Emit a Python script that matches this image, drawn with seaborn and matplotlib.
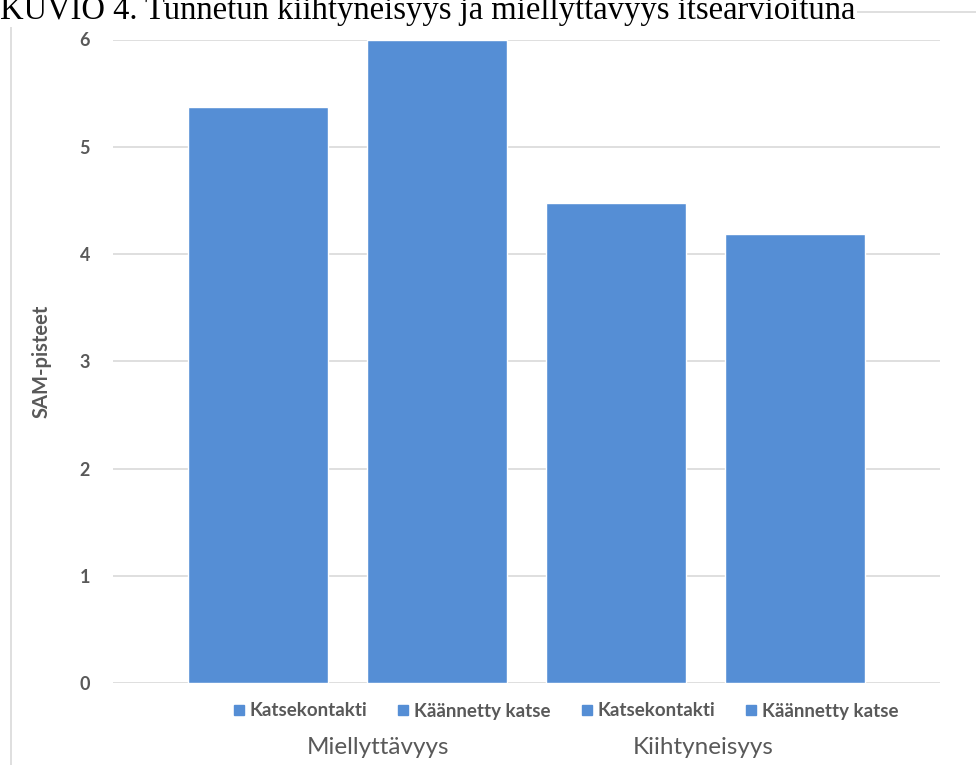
import matplotlib
matplotlib.use("Agg")
import matplotlib.pyplot as plt
from matplotlib.patches import Rectangle
from matplotlib.lines import Line2D
import seaborn as sns
import pandas as pd

# Chart data
groups = ["Miellyttävyys", "Miellyttävyys", "Kiihtyneisyys", "Kiihtyneisyys"]
conditions = ["Katsekontakti", "Käännetty katse", "Katsekontakti", "Käännetty katse"]
values = [5.37, 6.0, 4.48, 4.19]
group_labels = ["Miellyttävyys", "Kiihtyneisyys"]
y_ticks = [0, 1, 2, 3, 4, 5, 6]
title = "KUVIO 4. Tunnetun kiihtyneisyys ja miellyttävyys itsearvioituna"
y_label = "SAM-pisteet"

bar_color = "#558ED5"
text_color = "#595959"
grid_color = "#D9D9D9"

df = pd.DataFrame({
    "bar": [f"{g} – {c}" for g, c in zip(groups, conditions)],
    "group": groups,
    "condition": conditions,
    "value": values,
})

sns.set_theme(style="white")
plt.rcParams["font.family"] = ["Lato", "DejaVu Sans"]

W, H = 976, 765
fig = plt.figure(figsize=(W / 100, H / 100), dpi=100)
ax = fig.add_axes([113 / W, 1 - 683 / H, (940 - 113) / W, (683 - 39.5) / H])

sns.barplot(data=df, x="bar", y="value", color=bar_color, saturation=1,
            width=0.78, ax=ax, errorbar=None, zorder=3)

ax.set_xlim(-0.81, 3.81)
ax.set_ylim(0, 6)
ax.set_yticks(y_ticks)
ax.set_yticklabels([str(t) for t in y_ticks], color=text_color,
                   fontsize=13, fontweight="bold")
ax.tick_params(axis="y", length=0, pad=16.5)
ax.set_xticks([])
ax.set_xlabel("")
ax.set_ylabel(y_label, color=text_color, fontsize=14.5, fontweight="bold")
ax.yaxis.set_label_coords((52 - 113) / (940 - 113), 0.5)
ax.grid(axis="y", color=grid_color, linewidth=1.2, zorder=0)
for s in ax.spines.values():
    s.set_visible(False)

# Group labels under the legend row
label_x = [378, 703]
for x, lab in zip(label_x, group_labels):
    fig.text(x / W, 1 - 748 / H, lab, ha="center", va="center",
             fontsize=17.5, color=text_color)

# Series legend below the plot
handles = [Line2D([0], [0], marker="s", linestyle="none", markersize=7,
                  markerfacecolor=bar_color, markeredgecolor=bar_color)
           for _ in conditions]
leg = fig.legend(handles, conditions, ncol=4, loc="center",
                 bbox_to_anchor=(565 / W, 1 - 711 / H), frameon=False,
                 handletextpad=0.2, columnspacing=1.5, handlelength=0.8,
                 prop={"size": 13.5, "weight": "bold"})
for t in leg.get_texts():
    t.set_color(text_color)

# Outer chart frame
fig.patches.append(Rectangle((11 / W, -0.05), 1.1, 1 - 12 / H + 0.05,
                             transform=fig.transFigure, fill=False,
                             edgecolor=grid_color, linewidth=1.2))

# Caption along the top edge, partly clipped by the figure edge
fig.text(0, 1 - 19 / H, title, family=["Liberation Serif", "DejaVu Serif"],
         fontsize=23.5, color="black", ha="left", va="baseline",
         bbox=dict(facecolor="white", edgecolor="none", pad=1))

fig.savefig("out.png", dpi=100)
